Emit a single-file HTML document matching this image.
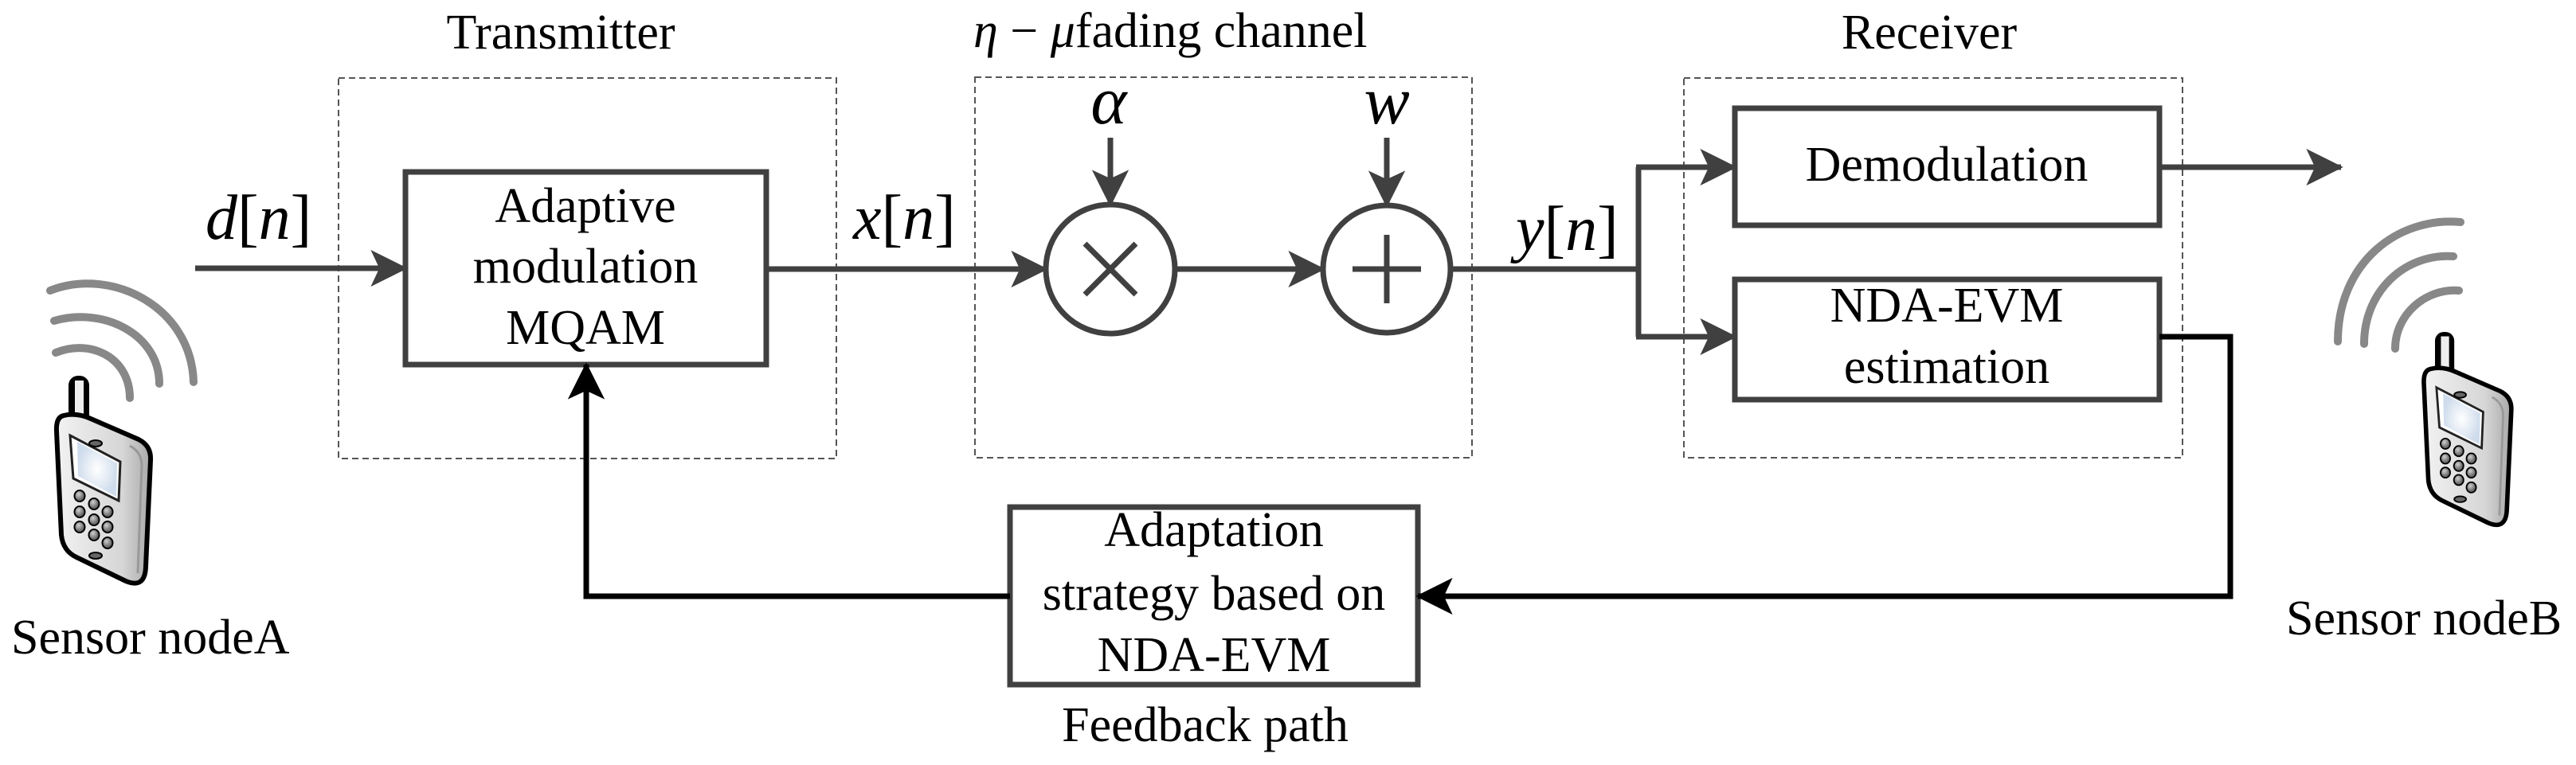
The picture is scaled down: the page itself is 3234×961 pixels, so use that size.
<!DOCTYPE html>
<html><head><meta charset="utf-8"><style>
html,body{margin:0;padding:0;background:#fff;}
svg{display:block;}
svg text, svg tspan{font-family:"Liberation Serif","Times New Roman",Times,"Noto Serif CJK SC","DejaVu Serif",serif !important;fill:#000;}
.m{font-style:italic;}
</style></head><body>
<svg width="3234" height="961" viewBox="0 0 3234 961" xmlns="http://www.w3.org/2000/svg">
<defs>
<marker id="ag" markerUnits="userSpaceOnUse" markerWidth="60" markerHeight="60" viewBox="-40 -20 44 40" refX="0" refY="0" orient="auto">
<path d="M2,0 L-32,-17 L-24,0 L-32,17 Z" fill="#404040"/></marker>
<marker id="ak" markerUnits="userSpaceOnUse" markerWidth="60" markerHeight="60" viewBox="-40 -20 44 40" refX="0" refY="0" orient="auto">
<path d="M2,0 L-32,-17 L-24,0 L-32,17 Z" fill="#000"/></marker>
<linearGradient id="bg" x1="0" y1="0" x2="1" y2="0">
<stop offset="0" stop-color="#f2f2f2"/><stop offset="0.7" stop-color="#d6d6d6"/><stop offset="1" stop-color="#a8a8a8"/></linearGradient>
<radialGradient id="sg"><stop offset="0" stop-color="#ffffff"/><stop offset="1" stop-color="#cfdcec"/></radialGradient>
<radialGradient id="kg" cx="0.4" cy="0.35"><stop offset="0" stop-color="#d0d0d0"/><stop offset="1" stop-color="#6a6a6a"/></radialGradient>
<g id="phone">
<rect x="86" y="472" width="26" height="66" rx="12" fill="#000"/>
<rect x="94" y="478" width="11" height="56" fill="#eee"/>
<path d="M80,522 Q70,524 71,542 L77,672 Q79,692 96,700 L158,730 Q182,740 183,712 L189,578 Q190,560 174,552 L114,526 Q96,518 80,522 Z" fill="url(#bg)" stroke="#000" stroke-width="6"/>
<path d="M163,560 Q178,568 178,585 L173,720" fill="none" stroke="#999" stroke-width="3"/>
<polygon points="88,547 151,580 149,629 92,601" fill="#fff" stroke="#222" stroke-width="3"/>
<polygon points="97,555 147,582 146,624 98,598" fill="url(#sg)"/>
<ellipse cx="120" cy="557" rx="8" ry="4" fill="#666" stroke="#000" stroke-width="2"/>
<ellipse cx="120" cy="698" rx="8" ry="4" fill="#666" stroke="#000" stroke-width="2"/>
<g fill="url(#kg)" stroke="#000" stroke-width="2">
<ellipse cx="100" cy="623" rx="6.5" ry="7"/><ellipse cx="118" cy="633" rx="6.5" ry="7"/><ellipse cx="135" cy="643" rx="6.5" ry="7"/>
<ellipse cx="100" cy="643" rx="6.5" ry="7"/><ellipse cx="118" cy="653" rx="6.5" ry="7"/><ellipse cx="135" cy="662" rx="6.5" ry="7"/>
<ellipse cx="100" cy="662" rx="6.5" ry="7"/><ellipse cx="118" cy="672" rx="6.5" ry="7"/><ellipse cx="135" cy="682" rx="6.5" ry="7"/>
</g>
</g>
</defs>

<g fill="none" stroke="#555" stroke-width="2" stroke-dasharray="8,5">
<rect x="425" y="98" width="625" height="478"/>
<rect x="1224" y="97" width="624" height="478"/>
<rect x="2114" y="98" width="626" height="477"/>
</g>

<g font-size="62">
<text x="704" y="61" text-anchor="middle">Transmitter</text>
<text x="1222" y="59"><tspan class="m">η</tspan> − <tspan class="m">μ</tspan>fading channel</text>
<text x="2422" y="61" text-anchor="middle">Receiver</text>
</g>

<g fill="none" stroke="#404040" stroke-width="7">
<rect x="509" y="216" width="453" height="242"/>
<circle cx="1394" cy="338" r="81"/>
<circle cx="1741" cy="338" r="80"/>
<rect x="2178" y="136" width="533" height="147"/>
<rect x="2178" y="351" width="533" height="151"/>
<rect x="1268" y="637" width="512" height="223"/>
<path d="M1362,306 L1426,370 M1426,306 L1362,370"/>
<path d="M1741,295 L1741,381 M1698,338 L1784,338"/>
<line x1="245" y1="337" x2="509" y2="337" marker-end="url(#ag)"/>
<line x1="962" y1="338" x2="1313" y2="338" marker-end="url(#ag)"/>
<line x1="1475" y1="338" x2="1661" y2="338" marker-end="url(#ag)"/>
<line x1="1394" y1="173" x2="1394" y2="257" marker-end="url(#ag)"/>
<line x1="1741" y1="173" x2="1741" y2="258" marker-end="url(#ag)"/>
<polyline points="1821,338 2057,338"/>
<polyline points="2057,210 2057,423"/>
<line x1="2054" y1="210" x2="2178" y2="210" marker-end="url(#ag)"/>
<line x1="2054" y1="423" x2="2178" y2="423" marker-end="url(#ag)"/>
<line x1="2711" y1="210" x2="2939" y2="210" marker-end="url(#ag)"/>
</g>
<g fill="none" stroke="#000" stroke-width="7">
<polyline points="2711,423 2800,423 2800,749 1780,749" marker-end="url(#ak)"/>
<polyline points="1268,749 736,749 736,458" marker-end="url(#ak)"/>
</g>

<g font-size="62" text-anchor="middle">
<text x="735" y="279">Adaptive</text>
<text x="735" y="355">modulation</text>
<text x="735" y="432">MQAM</text>
<text x="2444" y="227">Demodulation</text>
<text x="2444" y="404">NDA-EVM</text>
<text x="2444" y="481">estimation</text>
<text x="1524" y="686">Adaptation</text>
<text x="1524" y="766">strategy based on</text>
<text x="1524" y="843">NDA-EVM</text>
<text x="1513" y="931">Feedback path</text>
</g>

<g>
<text x="258" y="300" font-size="80"><tspan class="m">d</tspan>[<tspan class="m">n</tspan>]</text>
<text x="1071" y="300" font-size="80"><tspan class="m">x</tspan>[<tspan class="m">n</tspan>]</text>
<text x="1903" y="314" font-size="80"><tspan class="m">y</tspan>[<tspan class="m">n</tspan>]</text>
<text x="1392" y="155" font-size="86" class="m" text-anchor="middle">α</text>
<text x="1741" y="155" font-size="86" class="m" text-anchor="middle">w</text>
</g>

<g fill="none" stroke="#888" stroke-width="10" stroke-linecap="round">
<path d="M63,365 C140,335 240,385 243,480"/>
<path d="M68,403 C130,385 200,420 200,482"/>
<path d="M70,443 C115,425 163,450 163,500"/>
<path d="M3089,279 C3010,272 2935,330 2935,429"/>
<path d="M3080,322 C3020,318 2968,365 2968,432"/>
<path d="M3087,365 C3045,362 3007,395 3007,438"/>
</g>
<use href="#phone"/>
<use href="#phone" transform="translate(2977,-22) scale(0.93)"/>

<g font-size="62">
<text x="14" y="821">Sensor nodeA</text>
<text x="2870" y="797">Sensor nodeB</text>
</g>
</svg>
</body></html>
